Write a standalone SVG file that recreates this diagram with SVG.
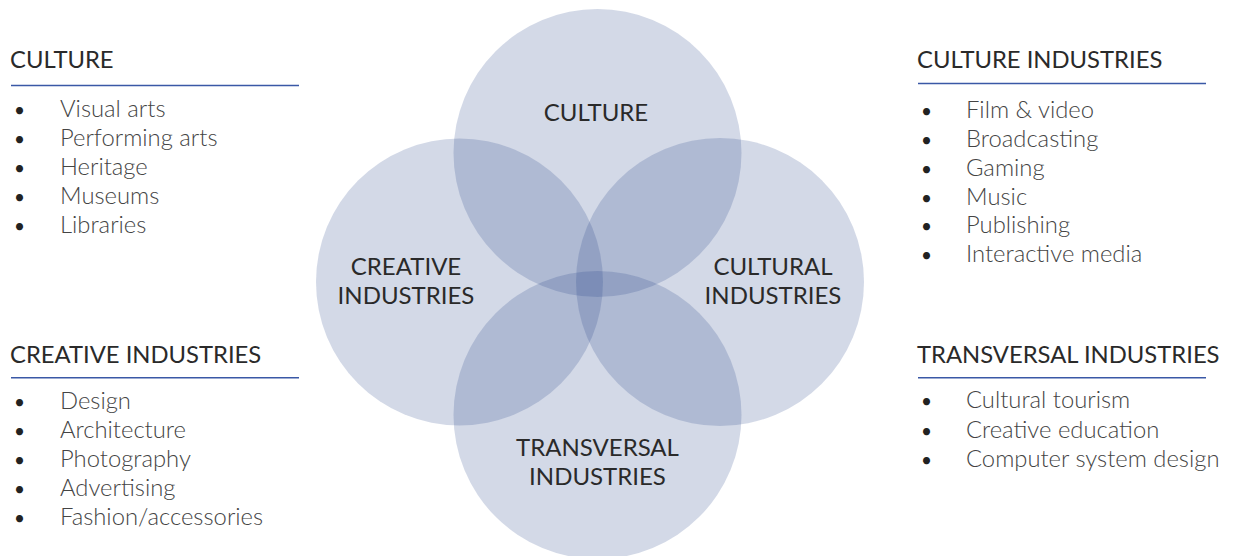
<svg xmlns="http://www.w3.org/2000/svg" width="1233" height="556" viewBox="0 0 1233 556">
<style>
.circ{fill:#234187;fill-opacity:0.2;}
.hd{font-family:Lato,"Open Sans","Liberation Sans",sans-serif;font-size:23.8px;fill:#2a2a2a;}
.lbl{font-family:Lato,"Open Sans","Liberation Sans",sans-serif;font-size:24px;fill:#2a2a2a;text-anchor:middle;}
.li{font-family:Lato,"Open Sans","Liberation Sans",sans-serif;font-size:23.8px;font-weight:300;fill:#444;}
.bul{font-family:Lato,"Open Sans","Liberation Sans",sans-serif;font-size:19px;fill:#222;}
.rule{stroke:#3a58a6;stroke-width:1.6;}
</style>
<rect width="1233" height="556" fill="#fff"/>
<g id="venn">
  <g id="circle-culture"><circle class="circ" cx="597.5" cy="153" r="144"/></g>
  <g id="circle-creative"><circle class="circ" cx="459.5" cy="282" r="143.5"/></g>
  <g id="circle-cultural"><circle class="circ" cx="720" cy="282" r="144"/></g>
  <g id="circle-transversal"><circle class="circ" cx="597.5" cy="415" r="144"/></g>
  <text class="lbl" x="596" y="121">CULTURE</text>
  <text class="lbl" x="406" y="275">CREATIVE</text>
  <text class="lbl" x="406" y="304">INDUSTRIES</text>
  <text class="lbl" x="773" y="275">CULTURAL</text>
  <text class="lbl" x="773" y="304">INDUSTRIES</text>
  <text class="lbl" x="597.5" y="456">TRANSVERSAL</text>
  <text class="lbl" x="597.5" y="485">INDUSTRIES</text>
</g>
<g id="list-culture">
  <text class="hd" x="10" y="67.5">CULTURE</text>
  <line class="rule" x1="11" y1="85.5" x2="299" y2="85.5"/>
  <g class="bul"><text x="14" y="117">•</text><text x="14" y="146">•</text><text x="14" y="175">•</text><text x="14" y="204">•</text><text x="14" y="233">•</text></g>
  <text class="li" x="60" y="117">Visual arts</text>
  <text class="li" x="60" y="146">Performing arts</text>
  <text class="li" x="60" y="175">Heritage</text>
  <text class="li" x="60" y="204">Museums</text>
  <text class="li" x="60" y="233">Libraries</text>
</g>
<g id="list-creative">
  <text class="hd" x="10" y="362.5">CREATIVE INDUSTRIES</text>
  <line class="rule" x1="11" y1="377.7" x2="299" y2="377.7"/>
  <g class="bul"><text x="14" y="409">•</text><text x="14" y="438">•</text><text x="14" y="467">•</text><text x="14" y="496">•</text><text x="14" y="524.5">•</text></g>
  <text class="li" x="60" y="409">Design</text>
  <text class="li" x="60" y="438">Architecture</text>
  <text class="li" x="60" y="467">Photography</text>
  <text class="li" x="60" y="496">Advertising</text>
  <text class="li" x="60" y="524.5">Fashion/accessories</text>
</g>
<g id="list-culture-industries">
  <text class="hd" x="917" y="67.5">CULTURE INDUSTRIES</text>
  <line class="rule" x1="918" y1="83.5" x2="1206" y2="83.5"/>
  <g class="bul"><text x="921" y="118">•</text><text x="921" y="147">•</text><text x="921" y="175.5">•</text><text x="921" y="204.5">•</text><text x="921" y="233">•</text><text x="921" y="262">•</text></g>
  <text class="li" x="966" y="118">Film &amp; video</text>
  <text class="li" x="966" y="147">Broadcasting</text>
  <text class="li" x="966" y="175.5">Gaming</text>
  <text class="li" x="966" y="204.5">Music</text>
  <text class="li" x="966" y="233">Publishing</text>
  <text class="li" x="966" y="262">Interactive media</text>
</g>
<g id="list-transversal">
  <text class="hd" x="917" y="362.5">TRANSVERSAL INDUSTRIES</text>
  <line class="rule" x1="918" y1="377.7" x2="1206" y2="377.7"/>
  <g class="bul"><text x="921" y="408">•</text><text x="921" y="437.5">•</text><text x="921" y="466.5">•</text></g>
  <text class="li" x="966" y="408">Cultural tourism</text>
  <text class="li" x="966" y="437.5">Creative education</text>
  <text class="li" x="966" y="466.5">Computer system design</text>
</g>
</svg>
